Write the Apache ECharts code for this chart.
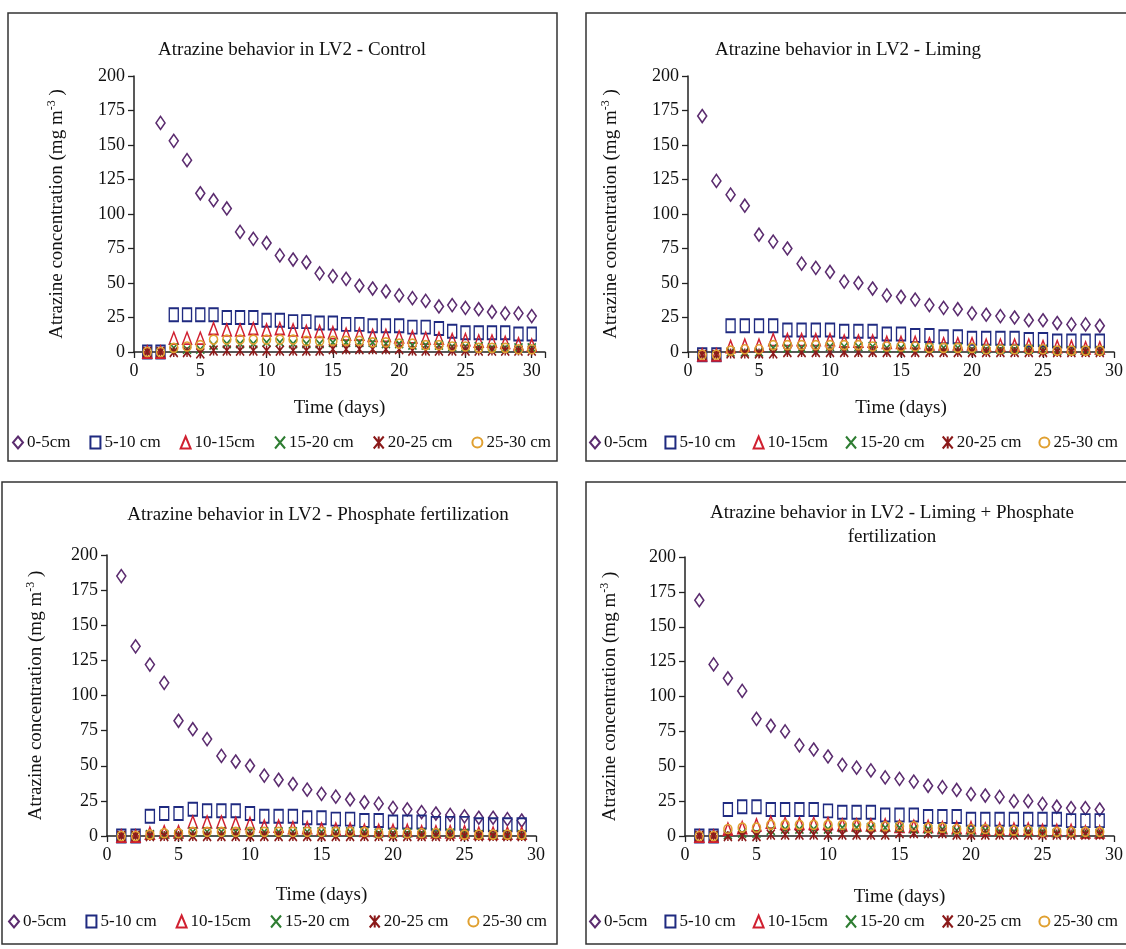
<!DOCTYPE html>
<html>
<head>
<meta charset="utf-8">
<script src="https://cdn.jsdelivr.net/npm/echarts@6/dist/echarts.min.js"></script>
<style>
	html, body { margin: 0; padding: 0; background: #fff; overflow: hidden; }
	#chart { width: 1126px; height: 949px; }
</style>
</head>
<body>
<div id="chart"></div>
<script>
//Days sampled (x values)
let days = [1, 2, 3, 4, 5, 6, 7, 8, 9, 10, 11, 12, 13, 14, 15, 16, 17, 18, 19, 20, 21, 22, 23, 24, 25, 26, 27, 28, 29, 30];
let depths = ['0-5cm', '5-10 cm', '10-15cm', '15-20 cm', '20-25 cm', '25-30 cm'];
let xTicks = [0, 5, 10, 15, 20, 25, 30];
let yTicks = [0, 25, 50, 75, 100, 125, 150, 175, 200];

//Control (days 1..30)
let ctrl_0_5 = [null, 166, 153, 139, 115, 110, 104, 87, 82, 79, 70, 67, 65, 57, 55, 53, 48, 46, 44, 41, 39, 37, 33, 34, 32, 31, 29, 28, 28, 26];
let ctrl_5_10 = [0, 0, 27, 27, 27, 27, 25, 25, 25, 23, 23, 22, 22, 21, 21, 20, 20, 19, 19, 19, 18, 18, 17, 15, 14, 14, 14, 14, 13, 13];
let ctrl_10_15 = [0, 0, 10, 10, 10, 17, 16, 16, 17, 16, 17, 16, 15, 15, 14, 13, 13, 12, 12, 11, 11, 10, 10, 9, 9, 8, 8, 7, 6, 5];
let ctrl_15_20 = [0, 0, 3, 2, 2, 5, 6, 6, 6, 7, 7, 6, 6, 6, 7, 7, 7, 7, 6, 6, 5, 5, 5, 4, 4, 4, 3, 3, 3, 3];
let ctrl_20_25 = [0, 0, 0, 0, -1, 1, 1, 1, 1, 1, 1, 1, 1, 1, 2, 2, 2, 2, 2, 2, 1, 1, 1, 1, 1, 1, 1, 1, 1, 1];
let ctrl_25_30 = [0, 0, 3, 4, 5, 9, 9, 9, 9, 9, 9, 9, 8, 8, 8, 8, 8, 7, 7, 6, 6, 5, 5, 4, 4, 3, 3, 3, 2, 2];

//Liming (days 1..29)
let lim_0_5 = [171, 124, 114, 106, 85, 80, 75, 64, 61, 58, 51, 50, 46, 41, 40, 38, 34, 32, 31, 28, 27, 26, 25, 23, 23, 21, 20, 20, 19];
let lim_5_10 = [-2, -2, 19, 19, 19, 19, 16, 16, 16, 16, 15, 15, 15, 13, 13, 12, 12, 11, 11, 10, 10, 10, 10, 9, 9, 8, 8, 8, 8];
let lim_10_15 = [-2, -2, 4, 5, 5, 9, 9, 9, 9, 9, 8, 8, 8, 7, 7, 7, 6, 6, 6, 6, 5, 5, 5, 5, 4, 4, 4, 3, 3];
let lim_15_20 = [-2, -2, 0, 0, 0, 3, 3, 3, 3, 4, 4, 4, 4, 3, 3, 3, 3, 3, 3, 2, 2, 2, 2, 2, 2, 1, 1, 1, 1];
let lim_20_25 = [-2, -2, -1, -1, -1, -1, 0, 0, 0, 0, 0, 0, 0, 0, 0, 0, 0, 0, 0, 0, 0, 0, 0, 0, 0, 0, 0, 0, 0];
let lim_25_30 = [-2, -2, 1, 2, 2, 5, 5, 5, 5, 5, 5, 5, 4, 4, 4, 4, 3, 3, 3, 3, 2, 2, 2, 2, 2, 1, 1, 1, 1];

//Phosphate fertilization (days 1..29)
let ph_0_5 = [185, 135, 122, 109, 82, 76, 69, 57, 53, 50, 43, 40, 37, 33, 30, 28, 26, 24, 23, 20, 19, 17, 16, 15, 14, 13, 13, 12, 11];
let ph_5_10 = [0, 0, 14, 16, 16, 19, 18, 18, 18, 16, 14, 14, 14, 13, 13, 12, 12, 11, 11, 10, 10, 10, 9, 9, 9, 8, 8, 8, 8];
let ph_10_15 = [0, 0, 2, 3, 3, 10, 10, 10, 9, 9, 7, 7, 6, 6, 5, 5, 5, 4, 4, 4, 4, 3, 3, 3, 3, 2, 2, 2, 2];
let ph_15_20 = [0, 0, 1, 1, 1, 3, 3, 3, 3, 3, 3, 3, 3, 3, 3, 3, 3, 3, 2, 2, 2, 2, 2, 2, 2, 1, 1, 1, 1];
let ph_20_25 = [0, 0, 0, 0, 0, 0, 0, 0, 0, 0, 0, 0, 0, 0, 0, 0, 0, 0, 0, 0, 0, 0, 0, 0, 0, 0, 0, 0, 0];
let ph_25_30 = [0, 0, 1, 2, 2, 3, 3, 3, 3, 3, 3, 3, 3, 3, 3, 3, 3, 3, 2, 2, 2, 2, 2, 2, 1, 1, 1, 1, 1];

//Liming + Phosphate fertilization (days 1..29)
let lp_0_5 = [169, 123, 113, 104, 84, 79, 75, 65, 62, 57, 51, 49, 47, 42, 41, 39, 36, 35, 33, 30, 29, 28, 25, 25, 23, 21, 20, 20, 19];
let lp_5_10 = [0, 0, 19, 21, 21, 19, 19, 19, 19, 18, 17, 17, 17, 15, 15, 15, 14, 14, 14, 12, 12, 12, 12, 12, 12, 12, 11, 11, 11];
let lp_10_15 = [0, 0, 5, 6, 8, 10, 9, 9, 9, 9, 8, 8, 8, 8, 7, 7, 7, 6, 6, 6, 5, 5, 5, 5, 4, 4, 4, 3, 3];
let lp_15_20 = [0, 0, 1, 2, 2, 4, 5, 5, 5, 5, 6, 6, 6, 6, 6, 5, 5, 5, 4, 4, 4, 3, 3, 3, 3, 2, 2, 2, 2];
let lp_20_25 = [0, 0, 0, 0, 0, 1, 1, 1, 1, 1, 1, 1, 1, 1, 2, 2, 2, 2, 1, 1, 1, 1, 1, 1, 1, 1, 1, 1, 1];
let lp_25_30 = [0, 0, 5, 6, 6, 8, 8, 8, 8, 8, 8, 8, 7, 7, 7, 7, 6, 6, 5, 5, 5, 4, 4, 4, 3, 3, 3, 3, 3];

let titles = [
	'Atrazine behavior in LV2 - Control',
	'Atrazine behavior in LV2 - Liming',
	'Atrazine behavior in LV2 - Phosphate fertilization',
	'Atrazine behavior in LV2 - Liming + Phosphate\nfertilization'
];

//Marker look for each depth: [symbol, colour, size]
let markers = [
	['diamond', '#5B2C6F', [9, 13]],
	['rect', '#1F2A80', [9, 13]],
	['triangle', '#D02030', [9, 12]],
	['path://M0,0L10,12M10,0L0,12', '#2E7D32', [8, 9]],
	['path://M0,0L10,12M10,0L0,12M5,0L5,12', '#8B1A1A', [8, 10]],
	['circle', '#E0A030', [8, 9]]
];

//Panel layout (pixels)
let panels = [
	{ data: [ctrl_0_5, ctrl_5_10, ctrl_10_15, ctrl_15_20, ctrl_20_25, ctrl_25_30], grid: [134, 76, 411, 276], xMax: 31,
		titleAt: [292, 38], legendAt: [12, 434], legendGap: 19, box: [8, 13, 549, 448], yGap: 66, xGap: 47 },
	{ data: [lim_0_5, lim_5_10, lim_10_15, lim_15_20, lim_20_25, lim_25_30], grid: [688, 76, 434, 276], xMax: 30,
		titleAt: [848, 38], legendAt: [589, 434], legendGap: 17, box: [586, 13, 560, 448], yGap: 66, xGap: 47 },
	{ data: [ph_0_5, ph_5_10, ph_10_15, ph_15_20, ph_20_25, ph_25_30], grid: [107, 555, 429, 281], xMax: 30,
		titleAt: [318, 503], legendAt: [8, 913], legendGap: 19, box: [2, 482, 555, 462], yGap: 60, xGap: 50 },
	{ data: [lp_0_5, lp_5_10, lp_10_15, lp_15_20, lp_20_25, lp_25_30], grid: [685, 557, 442, 279], xMax: 30,
		titleAt: [892, 501], legendAt: [589, 913], legendGap: 17, box: [586, 482, 560, 462], yGap: 64, xGap: 52 }
];

let serif = 'Liberation Serif';

function toPoints(values) {
	let pts = [];
	for (let i = 0; i < values.length; i++) {
		if (values[i] !== null) {
			pts.push([days[i], values[i]]);
		}
	}
	return pts;
}

function buildOption() {
	let option = {
		backgroundColor: '#fff',
		animation: false,
		title: [], grid: [], xAxis: [], yAxis: [], legend: [], series: [], graphic: []
	};

	panels.forEach(function (p, k) {
		option.title.push({
			text: titles[k],
			left: p.titleAt[0], top: p.titleAt[1], padding: 0,
			textAlign: 'center',
			textStyle: { fontFamily: serif, fontSize: 19, fontWeight: 'normal', color: '#111', lineHeight: 24 }
		});
		option.grid.push({ left: p.grid[0], top: p.grid[1], width: p.grid[2], height: p.grid[3] });
		option.xAxis.push({
			gridIndex: k, type: 'value', min: 0, max: p.xMax, interval: 5,
			name: 'Time (days)', nameLocation: 'middle', nameGap: p.xGap,
			nameTextStyle: { fontFamily: serif, fontSize: 19, color: '#111' },
			axisLine: { show: true, onZero: false, lineStyle: { color: '#222', width: 1.5 } },
			axisTick: { show: true, length: 6, lineStyle: { color: '#222', width: 1.3 } },
			splitLine: { show: false },
			axisLabel: {
				fontFamily: serif, fontSize: 18, color: '#111', margin: 10,
				formatter: function (v) { return xTicks.indexOf(v) >= 0 ? String(v) : ''; }
			}
		});
		option.yAxis.push({
			gridIndex: k, type: 'value', min: 0, max: 200, interval: 25,
			name: '{a|Atrazine concentration (mg m}{s|-3}{a| )}', nameLocation: 'middle', nameGap: p.yGap,
			nameTextStyle: {
				rich: {
					a: { fontFamily: serif, fontSize: 19, color: '#111', lineHeight: 22 },
					s: { fontFamily: serif, fontSize: 12, color: '#111', lineHeight: 22, verticalAlign: 'top', padding: [0, 0, 8, 0] }
				}
			},
			axisLine: { show: true, lineStyle: { color: '#222', width: 1.5 } },
			axisTick: { show: true, length: 6, lineStyle: { color: '#222', width: 1.3 } },
			splitLine: { show: false },
			axisLabel: {
				fontFamily: serif, fontSize: 18, color: '#111', margin: 9,
				formatter: function (v) { return yTicks.indexOf(v) >= 0 ? String(v) : ''; }
			}
		});
		option.legend.push({
			left: p.legendAt[0], top: p.legendAt[1], width: 600, padding: 0,
			itemWidth: 10, itemHeight: 12, itemGap: p.legendGap,
			selectedMode: false,
			data: depths,
			textStyle: { fontFamily: serif, fontSize: 17, color: '#111', padding: [0, 0, 0, -1] }
		});
		for (let s = 0; s < depths.length; s++) {
			let m = markers[s];
			option.series.push({
				type: 'scatter', name: depths[s], xAxisIndex: k, yAxisIndex: k,
				clip: false,
				symbol: m[0], symbolSize: m[2],
				itemStyle: { color: 'rgba(255,255,255,0)', borderColor: m[1], borderWidth: 1.6, opacity: 1 },
				data: toPoints(p.data[s])
			});
		}
		option.graphic.push({
			type: 'rect', silent: true,
			shape: { x: p.box[0], y: p.box[1], width: p.box[2], height: p.box[3] },
			style: { fill: 'none', stroke: '#333', lineWidth: 1.5 }
		});
	});
	return option;
}

window.onload = function () {
	let chart = echarts.init(document.getElementById('chart'), null, { renderer: 'canvas' });
	chart.setOption(buildOption());
};
</script>
</body>
</html>
